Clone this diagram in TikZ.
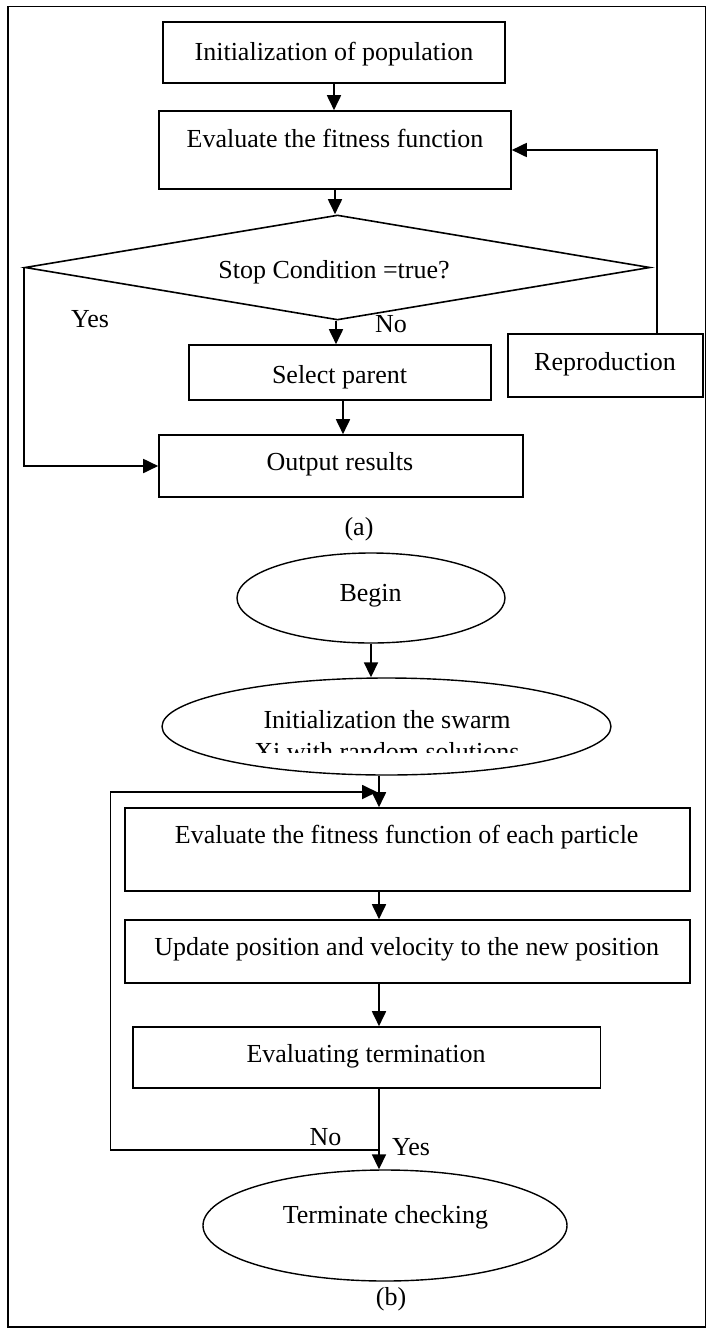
\documentclass[tikz,border=0pt]{standalone}
\usepackage{fontspec}
\setmainfont{Liberation Serif}
\usetikzlibrary{shapes.geometric,arrows.meta}
\begin{document}
\begin{tikzpicture}[x=1pt,y=-1pt,
  every node/.style={font=\fontsize{26}{30}\selectfont},
  box/.style={draw,line width=1.6pt,rectangle,inner sep=0pt},
  oval/.style={draw,line width=1.4pt,ellipse,inner sep=0pt},
  arr/.style={line width=1.8pt,-{Triangle[length=15pt,width=14pt]}},
  ln/.style={line width=1.8pt},
  txt/.style={inner sep=0pt,anchor=base}]
\useasboundingbox (0,0) rectangle (707,1328);
\draw[line width=1.2pt] (8,6.5) rectangle (705.5,1327);
% ---------- (a) ----------
\node[box,minimum width=342pt,minimum height=61pt] (b1) at (334,52.5) {};
\node[txt] (t1) at (334,60) {Initialization of population};
\node[box,minimum width=352pt,minimum height=78pt] (b2) at (335,150) {};
\node[txt] (t2) at (335,147) {Evaluate the fitness function};
\node[draw,line width=1.6pt,diamond,inner sep=0pt,minimum width=625pt,minimum height=105pt] (dia) at (337.5,267.5) {};
\node[txt] (t3) at (334,278) {Stop Condition =true?};
\node[txt] (yes1) at (90,327) {Yes};
\node[txt] (no1) at (391,332) {No};
\node[box,minimum width=302.5pt,minimum height=55pt] (sel) at (340,372.5) {};
\node[txt] (t4) at (339.5,383) {Select parent};
\node[box,minimum width=195pt,minimum height=63pt] (rep) at (605.5,365.5) {};
\node[txt] (t5) at (605,370) {Reproduction};
\node[box,minimum width=364pt,minimum height=62pt] (out) at (341,466) {};
\node[txt] (t6) at (340,470) {Output results};
\node[txt] (capa) at (359,535) {(a)};
\draw[arr] (b1.south) -- (b1.south |- b2.north);
\draw[arr] (b2.south) -- (b2.south |- dia.north);
\draw[arr] ([xshift=-1.5pt]dia.south) -- ([xshift=-1.5pt]dia.south |- sel.north);
\draw[arr] ([xshift=3pt]sel.south) -- ([xshift=3pt]sel.south |- out.north);
\draw[arr] (dia.west) |- (out.west);
\draw[arr] ([xshift=51.5pt]rep.north) |- (b2.east);
% ---------- (b) ----------
\node[oval,minimum width=268pt,minimum height=90pt] (beg) at (371,598) {};
\node[txt] (t7) at (370.6,601.7) {Begin};
\node[oval,minimum width=449pt,minimum height=97pt] (init) at (386.5,726.5) {};
\node[txt] (t8) at (387,728) {Initialization the swarm};
\begin{scope}
\clip (150,700) rectangle (620,752);
\node[txt] (t9) at (387,760) {Xi with random solutions};
\end{scope}
\coordinate (ax) at (379,0);
\node[box,minimum width=565pt,minimum height=83pt] (ev) at (407.5,849.5) {};
\node[txt] (t10) at (406.7,843) {Evaluate the fitness function of each particle};
\node[box,minimum width=565pt,minimum height=63pt] (upd) at (407.5,951.5) {};
\node[txt] (t11) at (406.7,955) {Update position and velocity to the new position};
\node[box,minimum width=467.5pt,minimum height=61pt] (evt) at (366.75,1057.5) {};
\node[txt] (t12) at (366,1062) {Evaluating termination};
\node[oval,minimum width=364pt,minimum height=111pt] (term) at (385,1225.5) {};
\node[txt] (t13) at (385.5,1223) {Terminate checking};
\node[txt] (no2) at (325.5,1145) {No};
\node[txt] (yes2) at (411,1155) {Yes};
\node[txt] (capb) at (391,1305) {(b)};
\coordinate (nj) at (379,1150);
\coordinate (nl) at (110.5,1150);
\coordinate (nt) at (110.5,792);
\draw[arr] (beg.south) -- (beg.south |- init.north);
\draw[arr] (init.south -| ax) -- (ev.north -| ax);
\draw[arr] (ev.south -| ax) -- (upd.north -| ax);
\draw[arr] (upd.south -| ax) -- (evt.north -| ax);
\draw[arr] (evt.south -| ax) -- (term.north -| ax);
\draw[arr] (nj) -- (nl) -- (nt) -- ([xshift=-2pt]nt -| ax);
\end{tikzpicture}
\end{document}
